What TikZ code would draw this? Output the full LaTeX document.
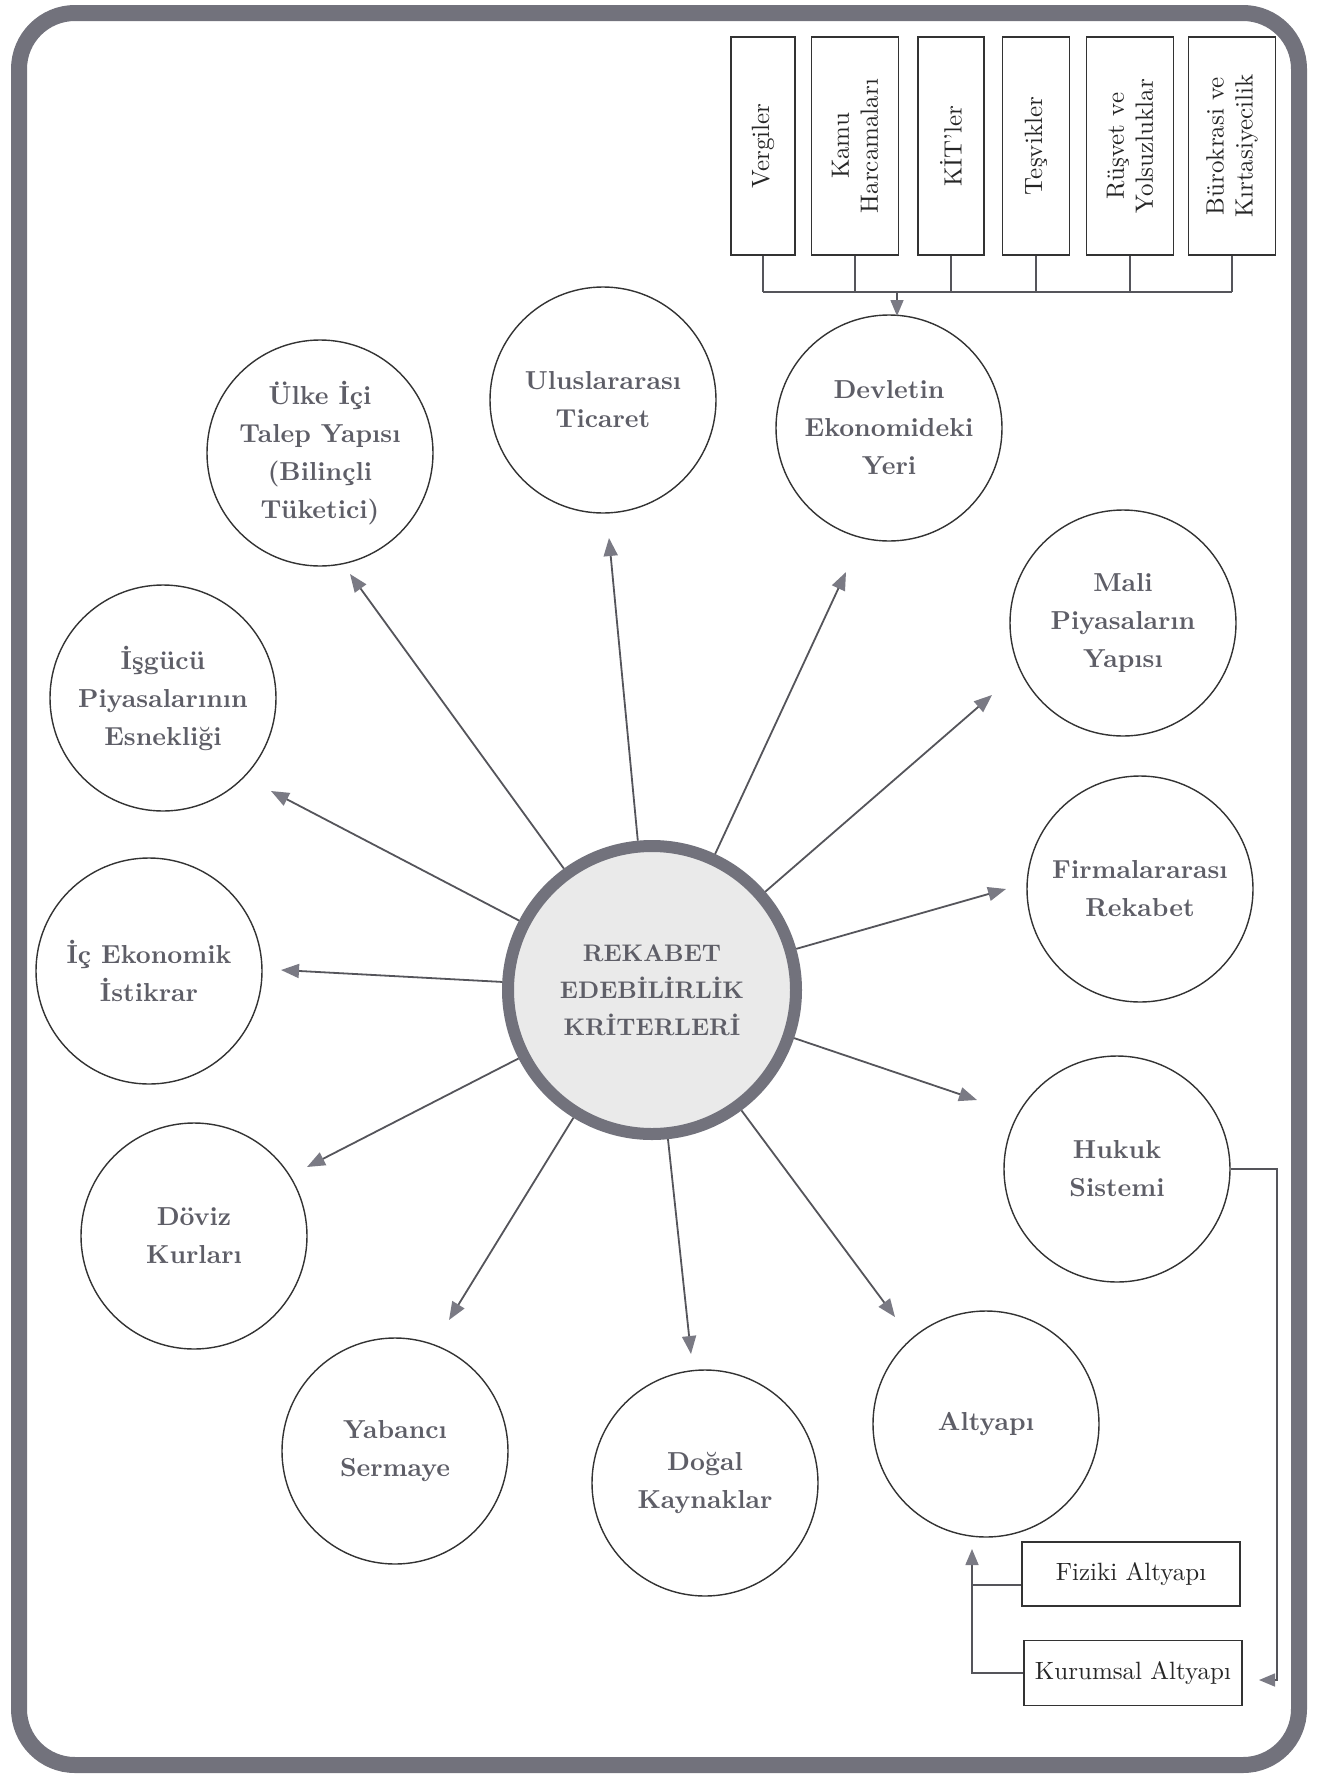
\documentclass[tikz,border=0pt]{standalone}
\usepackage{fontspec}
\setmainfont{lmroman10-regular}[Extension=.otf, BoldFont=lmroman10-bold]
\usetikzlibrary{arrows.meta}
\definecolor{framegray}{HTML}{72727C}
\definecolor{txtgray}{HTML}{5E5E67}
\definecolor{linegray}{HTML}{55555B}
\definecolor{tipgray}{HTML}{7A7A84}
\definecolor{centerfill}{HTML}{EAEAEA}
\tikzset{
  crit/.style={circle, draw=black!80, line width=1.4pt, minimum size=226pt, inner sep=0pt,
    align=center, text=txtgray, font=\fontsize{26}{38}\selectfont\bfseries},
  hub/.style={circle, draw=framegray, line width=12pt, fill=centerfill, minimum size=288pt,
    inner sep=0pt, align=center, text=txtgray, font=\fontsize{24}{37}\selectfont\bfseries},
  spoke/.style={draw=linegray, line width=1.8pt,
    -{Triangle[length=18pt,width=14pt,color=tipgray]}},
  link/.style={draw=linegray, line width=1.6pt},
  linkarrow/.style={draw=linegray, line width=1.6pt,
    -{Triangle[length=16pt,width=13pt,color=tipgray]}},
  vbox/.style={draw=black!80, line width=1.6pt, rotate=90, minimum width=218pt, inner sep=0pt,
    align=center, text=black!85, font=\fontsize{25}{29}\selectfont},
  hbox/.style={draw=black!80, line width=1.6pt, minimum width=218pt, minimum height=64pt,
    inner sep=0pt, text=black!85, font=\fontsize{25}{29}\selectfont}
}
\begin{document}
\begin{tikzpicture}[x=1pt,y=-1pt]
\useasboundingbox (0,0) rectangle (1320,1775);
\fill[white] (0,0) rectangle (1320,1775);
% frame
\draw[framegray, line width=16pt, rounded corners=56pt] (19,13) rectangle (1299,1765);

% centre
\node[hub] (C) at (652,990) {REKABET\\EDEBİLİRLİK\\KRİTERLERİ};

% criteria circles
\node[crit] (uk)    at (320,453)  {\rule{0pt}{20pt}Ülke İçi\\Talep Yapısı\\(Bilinçli\\Tüketici)};
\node[crit] (ut)    at (603,400)  {Uluslararası\\Ticaret};
\node[crit] (dev)   at (889,428)  {Devletin\\Ekonomideki\\Yeri};
\node[crit] (mali)  at (1123,623) {Mali\\Piyasaların\\Yapısı};
\node[crit] (firma) at (1140,889) {Firmalararası\\Rekabet};
\node[crit] (hukuk) at (1117,1169){Hukuk\\Sistemi};
\node[crit] (alt)   at (986,1424) {Altyapı};
\node[crit] (dogal) at (705,1483) {Doğal\\Kaynaklar};
\node[crit] (yab)   at (395,1451) {Yabancı\\Sermaye};
\node[crit] (doviz) at (194,1236) {Döviz\\Kurları};
\node[crit] (ic)    at (149,971)  {İç Ekonomik\\İstikrar};
\node[crit] (isg)   at (163,698)  {İşgücü\\Piyasalarının\\Esnekliği};

% arrow tips
\coordinate (tuk)    at (350,574);
\coordinate (tut)    at (609,538);
\coordinate (tdev)   at (846,572);
\coordinate (tmali)  at (992,695);
\coordinate (tfirma) at (1006,889);
\coordinate (thuk)   at (977,1100);
\coordinate (talt)   at (895,1317);
\coordinate (tdog)   at (691,1354);
\coordinate (tyab)   at (449,1320);
\coordinate (tdov)   at (307,1167);
\coordinate (tic)    at (281,970);
\coordinate (tisg)   at (271,791);

\foreach \t in {tuk,tut,tdev,tmali,tfirma,thuk,talt,tdog,tyab,tdov,tic,tisg}
  \draw[spoke] (C) -- (\t);

% top boxes
\node[vbox, minimum height=64pt] (b1) at (763,146)  {Vergiler};
\node[vbox, minimum height=87pt] (b2) at (855,146)  {Kamu\\Harcamaları};
\node[vbox, minimum height=66pt] (b3) at (951,146)  {KİT'ler};
\node[vbox, minimum height=67pt] (b4) at (1036,146) {Teşvikler};
\node[vbox, minimum height=87pt] (b5) at (1130,146) {Rüşvet ve\\Yolsuzluklar};
\node[vbox, minimum height=87pt] (b6) at (1232,146) {Bürokrasi ve\\Kırtasiyecilik};

\coordinate (bus) at (0,292);
\foreach \b in {b1,b2,b3,b4,b5,b6}
  \draw[link] (\b.west) -- (\b.west |- bus);
\draw[link] (b1.west |- bus) -- (b6.west |- bus);
\coordinate (dtop) at (897,292);
\coordinate (dtip) at (897,316);
\draw[linkarrow] (dtop) -- (dtip);

% bottom right boxes
\node[hbox] (fiz) at (1131,1574) {Fiziki Altyapı};
\node[hbox, minimum height=65pt] (kur) at (1133,1673) {Kurumsal Altyapı};

\coordinate (fj)   at (972,1585);
\coordinate (atip) at (972,1549);
\draw[link] (fiz.west |- fj) -- (fj);
\draw[linkarrow] (kur.west) -- (kur.west -| fj) -- (atip);

\coordinate (hc1) at (1277,1169);
\coordinate (hc2) at (1277,1680);
\coordinate (ktip) at (1259,1680);
\draw[linkarrow] (hukuk.east) -- (hc1) -- (hc2) -- (ktip);
\end{tikzpicture}
\end{document}
